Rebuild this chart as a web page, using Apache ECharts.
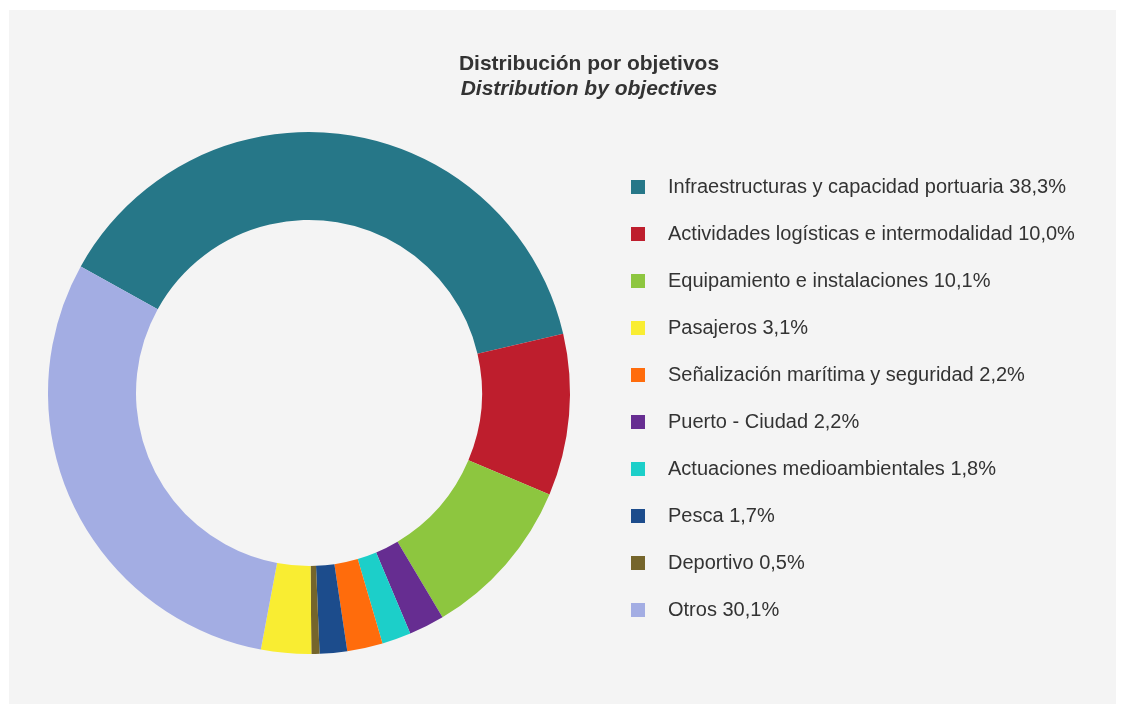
<!DOCTYPE html>
<html>
<head>
<meta charset="utf-8">
<script src="https://cdn.jsdelivr.net/npm/echarts@6/dist/echarts.min.js"></script>
<style>
  html, body { margin: 0; padding: 0; background: #fff; }
  #chart {
    position: absolute;
    left: 9px;
    top: 10px;
    width: 1107px;
    height: 694px;
    background: #f4f4f4;
  }
</style>
</head>
<body>
<div id="chart"></div>
<script>
// 饼图各扇区（按顺时针绘制顺序）
const names = [
  "Infraestructuras y capacidad portuaria",
  "Actividades logísticas e intermodalidad",
  "Equipamiento e instalaciones",
  "Puerto - Ciudad",
  "Actuaciones medioambientales",
  "Señalización marítima y seguridad",
  "Pesca",
  "Deportivo",
  "Pasajeros",
  "Otros",
];
const values = [38.3, 10.0, 10.1, 2.2, 1.8, 2.2, 1.7, 0.5, 3.1, 30.1];
const colors = [
  "#267788", "#be1e2d", "#8dc63f", "#662d91", "#1ccfc9",
  "#ff6c0c", "#1c4c8c", "#75652b", "#f9ed32", "#a3ade3",
];
// 图例顺序
const legendOrder = [
  "Infraestructuras y capacidad portuaria",
  "Actividades logísticas e intermodalidad",
  "Equipamiento e instalaciones",
  "Pasajeros",
  "Señalización marítima y seguridad",
  "Puerto - Ciudad",
  "Actuaciones medioambientales",
  "Pesca",
  "Deportivo",
  "Otros",
];

const chart = echarts.init(document.getElementById("chart"));
const fmt = (v) => v.toFixed(1).replace(".", ",") + "%";

const option = {
  backgroundColor: "#f4f4f4",
  title: {
    text: "Distribución por objetivos",
    subtext: "Distribution by objectives",
    left: 575,
    top: 39,
    textAlign: "center",
    itemGap: 4,
    textStyle: {
      fontFamily: "Liberation Sans, Arial",
      fontSize: 21,
      fontWeight: "bold",
      color: "#333",
    },
    subtextStyle: {
      fontFamily: "Liberation Sans, Arial",
      fontSize: 21,
      fontWeight: "bold",
      fontStyle: "italic",
      color: "#333",
    },
  },
  legend: {
    orient: "vertical",
    left: 617,
    top: 162,
    icon: "rect",
    itemWidth: 14,
    itemHeight: 14,
    itemGap: 27,
    data: legendOrder,
    selectedMode: false,
    formatter: (name) => name + " " + fmt(values[names.indexOf(name)]),
    textStyle: {
      fontFamily: "Liberation Sans, Arial",
      fontSize: 20,
      lineHeight: 20,
      color: "#333",
      padding: [0, 0, 0, 18],
    },
  },
  series: [
    {
      type: "pie",
      center: [300, 383],
      radius: [173, 261],
      startAngle: 151,
      clockwise: true,
      silent: true,
      label: { show: false },
      labelLine: { show: false },
      data: names.map((n, i) => ({
        name: n,
        value: values[i],
        itemStyle: { color: colors[i] },
      })),
    },
  ],
};
chart.setOption(option);
</script>
</body>
</html>
